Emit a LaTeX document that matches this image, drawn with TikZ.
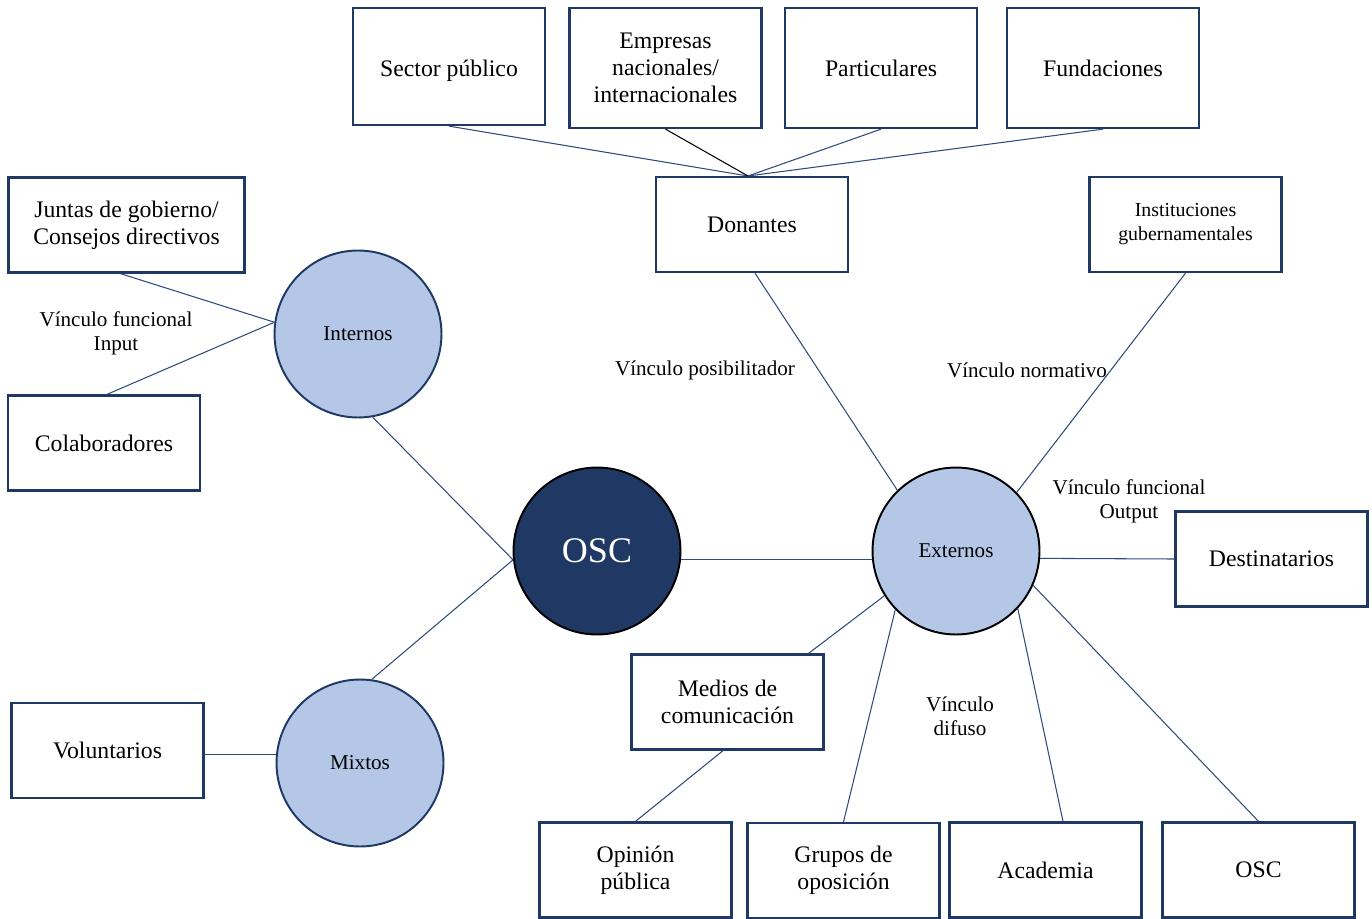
\documentclass[tikz,border=0pt]{standalone}
\usepackage{fontspec}
\setmainfont{Liberation Serif}
\definecolor{navy}{HTML}{1F3864}
\definecolor{edge}{HTML}{2F4B7C}
\definecolor{bubble}{HTML}{B4C7E7}
\definecolor{core}{HTML}{203864}
\begin{document}
\begin{tikzpicture}[x=0.02cm,y=-0.02cm,
  box/.style={draw=navy, line width=1.3pt, fill=white, align=center, inner sep=0pt,
    minimum width=3.84cm, minimum height=1.9cm, font=\fontsize{13.5}{15.2}\selectfont},
  tallbox/.style={box, minimum height=2.4cm},
  hub/.style={circle, draw=navy, line width=1.1pt, fill=bubble, minimum size=3.34cm,
    inner sep=0pt, font=\fontsize{12}{14}\selectfont},
  link/.style={draw=edge, line width=0.6pt},
  note/.style={align=center, font=\fontsize{12}{13.6}\selectfont}]
\useasboundingbox (0,0) rectangle (1372,919);

% stakeholders of the organisation
\node[hub] (int) at (358,334) {Internos};
\node[hub] (mix) at (360,763) {Mixtos};
\node[hub, draw=black] (ext) at (956,551) {Externos};
\node[hub, draw=black, fill=core, text=white, font=\fontsize{20.5}{22}\selectfont] (osc) at (597,551) {OSC};

% donors
\node[tallbox, minimum height=2.34cm] (sp) at (449,66.5) {\raisebox{-0.03cm}[\height][0pt]{Sector público}};
\node[tallbox] (emp) at (665.5,68) {Empresas\\nacionales/\\internacionales};
\node[tallbox] (par) at (881,68) {Particulares};
\node[tallbox] (fun) at (1103,68) {Fundaciones};
\node[box] (don) at (752,224.5) {Donantes};
\node[box, font=\fontsize{11.3}{13.6}\selectfont] (inst) at (1185.5,224.5) {Instituciones\\gubernamentales};

% internal and mixed
\node[box, minimum width=4.72cm] (jun) at (126.5,225) {Juntas de gobierno/\\Consejos directivos};
\node[box] (col) at (104,443) {Colaboradores};
\node[box] (vol) at (107.5,750.5) {Voluntarios};

% external
\node[box] (dest) at (1271.5,559) {Destinatarios};
\node[box] (med) at (727.5,702) {Medios de\\comunicación};
\node[box] (opi) at (635.5,870) {Opinión\\pública};
\node[box] (gru) at (843.5,870.5) {Grupos de\\oposición};
\node[box] (aca) at (1045.5,870) {Academia};
\node[box] (osb) at (1258.5,870) {OSC};

% connectors
\coordinate (dtop) at (748,176);
\draw[link] (sp.south) -- (dtop);
\draw[line width=0.6pt, black] (emp.south) -- (dtop);
\draw[link] (par.south) -- (dtop);
\draw[link] (fun.south) -- (dtop);
\draw[link] ([xshift=0.06cm]don.south) -- (ext.134);
\draw[link] (inst.south) -- (ext.44);

\draw[link] ([xshift=-0.12cm]jun.south) -- (int.172);
\draw[link] ([xshift=0.06cm]col.north) -- (int.172);
\draw[link] (int.-80) -- (osc.186);
\draw[link] (mix.82) -- (osc.186);
\draw[link] (mix.174) -- (mix.174 -| vol.east);
\draw[link] (osc.-6) -- (ext.186);

\draw[link] (ext.-5) -- (dest.west);
\draw[link] (ext.212) -- ([xshift=-0.32cm]med.north east);
\draw[link] ([xshift=-0.09cm]med.south) -- (opi.north);
\draw[link] (ext.224) -- (gru.north);
\draw[link] (ext.-43) -- ([xshift=0.35cm]aca.north);
\draw[link] (ext.-24) -- (osb.north);

% link types
\node[note] (lin) at (116,333) {Vínculo funcional\\Input};
\node[note] (lpos) at (705,370) {Vínculo posibilitador};
\node[note] (lnor) at (1027,370) {Vínculo normativo};
\node[note] (lout) at (1129,501) {Vínculo funcional\\Output};
\node[note] (ldif) at (960,716) {Vínculo\\difuso};
\end{tikzpicture}
\end{document}
